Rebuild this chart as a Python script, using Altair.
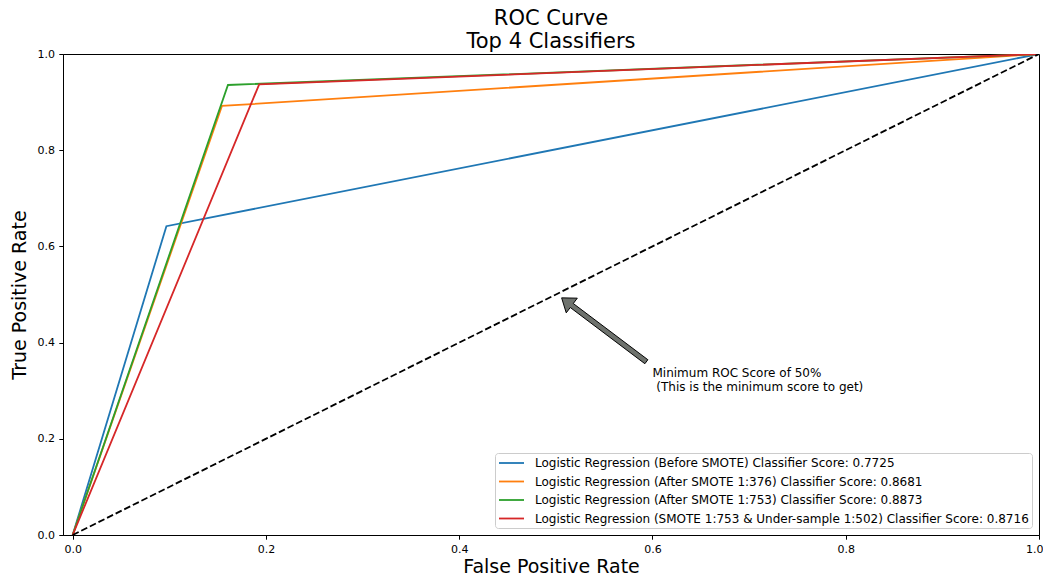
import altair as alt
import pandas as pd

# ---- data ----
series_names = [
    "Logistic Regression (Before SMOTE) Classifier Score: 0.7725",
    "Logistic Regression (After SMOTE 1:376) Classifier Score: 0.8681",
    "Logistic Regression (After SMOTE 1:753) Classifier Score: 0.8873",
    "Logistic Regression (SMOTE 1:753 & Under-sample 1:502) Classifier Score: 0.8716",
]
series_colors = ["#1f77b4", "#ff7f0e", "#2ca02c", "#d62728"]

fpr_before = [0.0, 0.097, 1.0]
tpr_before = [0.0, 0.642, 1.0]
fpr_smote376 = [0.0, 0.1545, 1.0]
tpr_smote376 = [0.0, 0.892, 1.0]
fpr_smote753 = [0.0, 0.1607, 1.0]
tpr_smote753 = [0.0, 0.9356, 1.0]
fpr_under = [0.0, 0.193, 1.0]
tpr_under = [0.0, 0.937, 1.0]

diag_x = [0.0, 1.0]
diag_y = [0.0, 1.0]

x_ticks = [0.0, 0.2, 0.4, 0.6, 0.8, 1.0]
y_ticks = [0.0, 0.2, 0.4, 0.6, 0.8, 1.0]

annotation_lines = ["Minimum ROC Score of 50% ",
                    "\u200b\u00a0(This is the minimum score to get)"]
annotation_x = [0.6]
annotation_y = [0.3]
arrow_tip_x = [0.506]
arrow_tip_y = [0.493]

# ---- tables ----
curves = [(fpr_before, tpr_before), (fpr_smote376, tpr_smote376),
          (fpr_smote753, tpr_smote753), (fpr_under, tpr_under)]
rows = []
for name, (fx, ty) in zip(series_names, curves):
    for i, (a, b) in enumerate(zip(fx, ty)):
        rows.append({"series": name, "fpr": a, "tpr": b, "idx": i})
df = pd.DataFrame(rows)
diag = pd.DataFrame({"fpr": diag_x, "tpr": diag_y, "idx": [0, 1]})
ann = pd.DataFrame({"fpr": annotation_x, "tpr": annotation_y,
                    "label": ["\n".join(annotation_lines)]})
tip = pd.DataFrame({"fpr": arrow_tip_x, "tpr": arrow_tip_y})

FONT = "DejaVu Sans"
xscale = alt.Scale(domain=[-0.01, 1.0], nice=False, zero=False)
yscale = alt.Scale(domain=[0.0, 1.0], nice=False, zero=False)

x_enc = alt.X("fpr:Q", scale=xscale,
              axis=alt.Axis(values=x_ticks, format=".1f", title="False Positive Rate",
                            labelFlush=1, labelFlushOffset=4, titlePadding=3))
y_enc = alt.Y("tpr:Q", scale=yscale,
              axis=alt.Axis(values=y_ticks, format=".1f", title="True Positive Rate",
                            labelFlush=False, titlePadding=8))

lines = alt.Chart(df).mark_line(strokeWidth=1.8, clip=True).encode(
    x=x_enc, y=y_enc,
    color=alt.Color("series:N",
                    scale=alt.Scale(domain=series_names, range=series_colors),
                    sort=series_names,
                    legend=alt.Legend(
                        title=None, orient="bottom-right", offset=7,
                        symbolType="M-1,0L3.167,0", symbolSize=144,
                        symbolStrokeWidth=1.8, labelOffset=23, rowPadding=5.5,
                        padding=3, strokeColor="#cccccc",
                        fillColor="rgba(255,255,255,0.8)", cornerRadius=3,
                        labelFont=FONT, labelFontSize=12, labelLimit=0,
                        labelColor="black")),
    order="idx:Q",
)

diagonal = alt.Chart(diag).mark_line(color="black", strokeWidth=1.8,
                                     strokeDash=[6.7, 2.9], clip=True).encode(
    x="fpr:Q", y="tpr:Q", order="idx:Q")

arrow_path = ("M0,0 L0.1734,0.2394 L0.0471,0.2394 L0.0471,2 L-0.0471,2 "
              "L-0.0471,0.2394 L-0.1734,0.2394 Z")
arrow = alt.Chart(tip).mark_point(shape=arrow_path, size=11257, angle=307,
                                  filled=True, fill="#6E726D", stroke="black",
                                  strokeWidth=0.9, opacity=1).encode(
    x="fpr:Q", y="tpr:Q")

text = alt.Chart(ann).mark_text(align="left", baseline="alphabetic", lineBreak="\n",
                                lineHeight=14, font=FONT, fontSize=12,
                                color="black", dy=-14).encode(
    x="fpr:Q", y="tpr:Q", text="label:N")

chart = alt.layer(lines, diagonal, arrow, text).properties(
    width=976, height=481,
    title=alt.Title(["ROC Curve", "Top 4 Classifiers"], fontSize=21, font=FONT,
                    fontWeight="normal", anchor="middle", color="black",
                    lineHeight=23.5, offset=-4),
    autosize=alt.AutoSizeParams(type="none"),
    padding={"left": 55, "top": 46, "right": 4, "bottom": 48},
).configure(font=FONT).configure_view(
    stroke="black", strokeWidth=1
).configure_axis(
    grid=False, domainColor="black", tickColor="black", tickSize=4.2,
    labelFontSize=11, labelColor="black", labelPadding=4.2, labelFont=FONT,
    titleFont=FONT, titleFontSize=19, titleFontWeight="normal", titleColor="black",
)

chart.save("out.html", embed_options={"renderer": "svg", "actions": False})
